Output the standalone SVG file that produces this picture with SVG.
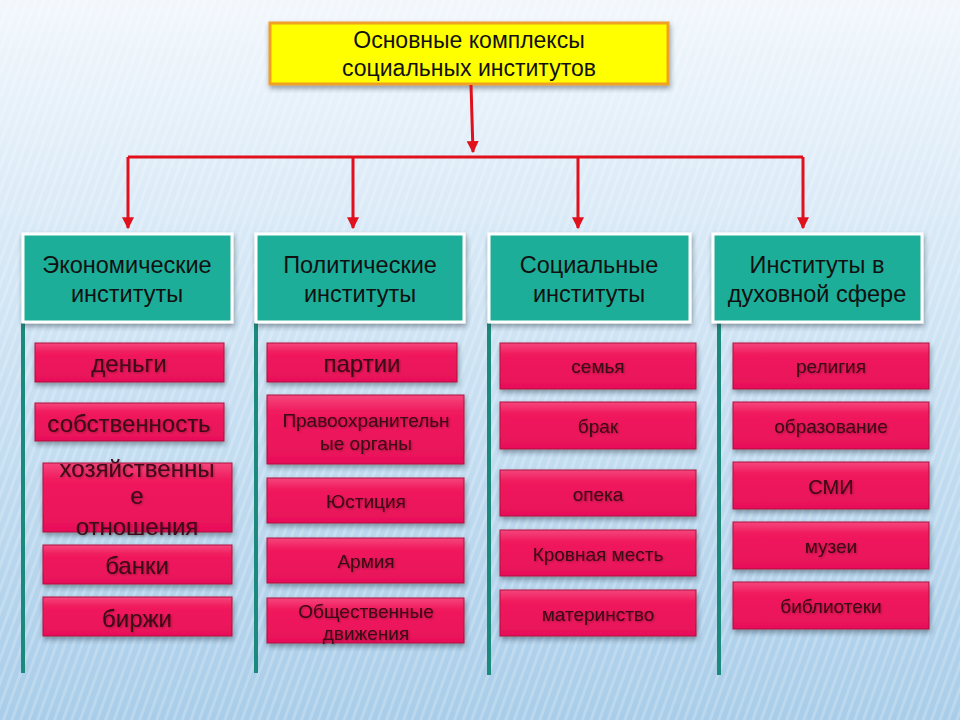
<svg xmlns="http://www.w3.org/2000/svg" width="960" height="720" viewBox="0 0 960 720">
<defs>
<linearGradient id="bg" x1="0" y1="0" x2="0" y2="1">
<stop offset="0" stop-color="#f2f7fc"/>
<stop offset="0.35" stop-color="#d6e8f6"/>
<stop offset="1" stop-color="#a9cde9"/>
</linearGradient>
<pattern id="stripes" width="8" height="8" patternUnits="userSpaceOnUse" patternTransform="rotate(20)">
<rect width="3" height="8" fill="#ffffff" opacity="0.2"/>
</pattern>
<linearGradient id="pink" x1="0" y1="0" x2="0" y2="1">
<stop offset="0" stop-color="#f5467c"/>
<stop offset="0.25" stop-color="#f01a5d"/>
<stop offset="1" stop-color="#e8105a"/>
</linearGradient>
<filter id="sh" x="-10%" y="-10%" width="125%" height="140%">
<feDropShadow dx="1" dy="3" stdDeviation="2.5" flood-color="#203040" flood-opacity="0.45"/>
</filter>
<filter id="tsh" x="-10%" y="-10%" width="120%" height="140%">
<feDropShadow dx="1" dy="1" stdDeviation="0.8" flood-color="#000" flood-opacity="0.3"/>
</filter>
<marker id="arr" viewBox="0 0 10 10" refX="9" refY="5" markerWidth="4" markerHeight="4" orient="auto" markerUnits="strokeWidth">
<path d="M0,0 L10,5 L0,10 z" fill="#e0101c"/>
</marker>
</defs>
<style>
.ttl{font-family:"Liberation Sans",Arial,sans-serif;font-size:23px;fill:#111;text-anchor:middle}
.head rect{fill:#1fae98;stroke:#ffffff;stroke-width:3;filter:url(#sh)}
.head text{font-family:"Liberation Sans",Arial,sans-serif;font-size:23.5px;fill:#111;text-anchor:middle}
.item rect{fill:url(#pink);stroke:#b0103f;stroke-width:1;filter:url(#sh)}
.item text{font-family:"Liberation Sans",Arial,sans-serif;fill:#3a0812;text-anchor:middle;filter:url(#tsh)}
.big{font-size:24px}
.sm{font-size:19px}
.bar{fill:#1b8a7c}
.con{fill:none;stroke:#e0101c;stroke-width:3}
</style>
<rect width="960" height="720" fill="url(#bg)"/>
<rect width="960" height="720" fill="url(#stripes)"/>

<g id="title">
<rect x="270" y="23" width="398" height="61" fill="#ffff00" stroke="#f0a020" stroke-width="3" filter="url(#sh)"/>
<text class="ttl" x="469" y="48">Основные комплексы</text>
<text class="ttl" x="469" y="76">социальных институтов</text>
</g>

<g id="connectors">
<path class="con" d="M471,85 L473,152" marker-end="url(#arr)"/>
<path class="con" d="M128,157 L803,157"/>
<path class="con" d="M128,157 L128,228" marker-end="url(#arr)"/>
<path class="con" d="M353,157 L353,228" marker-end="url(#arr)"/>
<path class="con" d="M578,157 L578,228" marker-end="url(#arr)"/>
<path class="con" d="M803,157 L803,228" marker-end="url(#arr)"/>
</g>

<g id="bars">
<rect class="bar" x="21" y="323" width="4" height="350"/>
<rect class="bar" x="254" y="323" width="4" height="350"/>
<rect class="bar" x="487" y="323" width="4" height="352"/>
<rect class="bar" x="717" y="323" width="4" height="352"/>
</g>

<g id="h-econ" class="head">
<rect x="23" y="234" width="209" height="88"/>
<text x="127" y="273">Экономические</text>
<text x="127" y="302">институты</text>
</g>
<g id="h-pol" class="head">
<rect x="256" y="234" width="208" height="88"/>
<text x="360" y="273">Политические</text>
<text x="360" y="302">институты</text>
</g>
<g id="h-soc" class="head">
<rect x="489" y="234" width="201" height="88"/>
<text x="589" y="273">Социальные</text>
<text x="589" y="302">институты</text>
</g>
<g id="h-spirit" class="head">
<rect x="713" y="234" width="209" height="88"/>
<text x="817" y="273">Институты в</text>
<text x="817" y="302">духовной сфере</text>
</g>

<g id="e1" class="item"><rect x="35" y="343" width="189" height="39"/><text class="big" x="129" y="372">деньги</text></g>
<g id="e2" class="item"><rect x="35" y="403" width="189" height="38"/><text class="big" x="129" y="432">собственность</text></g>
<g id="e3" class="item"><rect x="43" y="463" width="189" height="69"/><text class="big" x="137" y="477">хозяйственны</text><text class="big" x="137" y="504">е</text><text class="big" x="137" y="535">отношения</text></g>
<g id="e4" class="item"><rect x="43" y="545" width="189" height="39"/><text class="big" x="137" y="574">банки</text></g>
<g id="e5" class="item"><rect x="43" y="597" width="189" height="39"/><text class="big" x="137" y="627">биржи</text></g>

<g id="p1" class="item"><rect x="267" y="343" width="190" height="39"/><text class="big" x="362" y="372">партии</text></g>
<g id="p2" class="item"><rect x="267" y="395" width="197" height="69"/><text class="sm" x="366" y="427">Правоохранительн</text><text class="sm" x="366" y="450">ые органы</text></g>
<g id="p3" class="item"><rect x="267" y="478" width="197" height="45"/><text class="sm" x="366" y="508">Юстиция</text></g>
<g id="p4" class="item"><rect x="267" y="538" width="197" height="45"/><text class="sm" x="366" y="568">Армия</text></g>
<g id="p5" class="item"><rect x="267" y="598" width="197" height="45"/><text class="sm" x="366" y="618">Общественные</text><text class="sm" x="366" y="640">движения</text></g>

<g id="s1" class="item"><rect x="500" y="343" width="196" height="46"/><text class="sm" x="598" y="373">семья</text></g>
<g id="s2" class="item"><rect x="500" y="402" width="196" height="47"/><text class="sm" x="598" y="433">брак</text></g>
<g id="s3" class="item"><rect x="500" y="470" width="196" height="46"/><text class="sm" x="598" y="501">опека</text></g>
<g id="s4" class="item"><rect x="500" y="530" width="196" height="46"/><text class="sm" x="598" y="561">Кровная месть</text></g>
<g id="s5" class="item"><rect x="500" y="590" width="196" height="46"/><text class="sm" x="598" y="621">материнство</text></g>

<g id="d1" class="item"><rect x="733" y="343" width="196" height="46"/><text class="sm" x="831" y="373">религия</text></g>
<g id="d2" class="item"><rect x="733" y="402" width="196" height="47"/><text class="sm" x="831" y="433">образование</text></g>
<g id="d3" class="item"><rect x="733" y="462" width="196" height="47"/><text class="sm" x="831" y="494" style="font-size:20px">СМИ</text></g>
<g id="d4" class="item"><rect x="733" y="522" width="196" height="47"/><text class="sm" x="831" y="553">музеи</text></g>
<g id="d5" class="item"><rect x="733" y="582" width="196" height="47"/><text class="sm" x="831" y="613">библиотеки</text></g>
</svg>
